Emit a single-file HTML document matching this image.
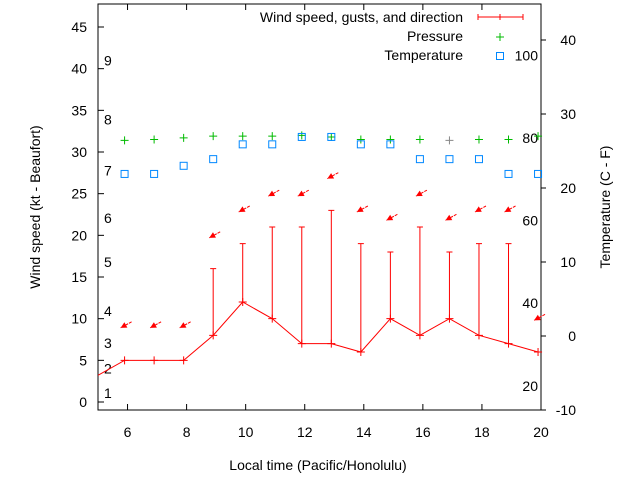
<!DOCTYPE html>
<html><head><meta charset="utf-8"><style>
body{margin:0;background:#fff}
svg{display:block;font-family:"Liberation Sans",sans-serif;font-size:14px}
</style></head><body>
<svg id="c" width="640" height="480" viewBox="0 0 640 480"></svg>
<script>
const hours=[4.9,5.9,6.9,7.9,8.9,9.9,10.9,11.9,12.9,13.9,14.9,15.9,16.9,17.9,18.9,19.9];
const wind=[3,5,5,5,8,12,10,7,7,6,10,8,10,8,7,6];
const gusts=[3,5,5,5,16,19,21,21,23,19,18,21,18,19,19,6];
const arrowLevel=[null,8.9,8.9,8.9,19.7,22.8,24.7,24.7,26.8,22.8,21.8,24.7,21.8,22.8,22.8,9.8];
const pressure=[null,31.4,31.5,31.7,31.9,31.9,31.9,32,31.8,31.5,31.5,31.5,31.4,31.5,31.5,31.9];
const pressureGray=[null,null,null,null,null,null,null,null,null,null,null,null,31.4,null,null,null];
const tempC=[null,21.9,21.9,23,23.9,25.9,25.9,26.9,26.9,25.9,25.9,23.9,23.9,23.9,21.9,21.9];
const xTicks=[6,8,10,12,14,16,18,20];
const yTicks=[0,5,10,15,20,25,30,35,40,45];
const tTicks=[-10,0,10,20,30,40];
const beaufort=["1","2","3","4","5","6","7","8","9"];
const beaufortAt=[1.1,4,7.1,10.9,16.8,22.1,27.8,33.9,41];
const pLabels=["20","40","60","80","100"];
const pLabelAt=[1.9,11.9,21.8,31.7,41.6];

const L=98,R=541,T=4,B=410;
const X=h=>L+(h-5)*(R-L)/15;
const Y=v=>402-v*375/45;
const YT=c=>336-c*7.4;
const s=document.getElementById('c');
const NS='http://www.w3.org/2000/svg';
function mk(tag,at,name,txt){const e=document.createElementNS(NS,tag);for(const k in at)e.setAttribute(k,at[k]);


if(txt!==undefined)e.textContent=txt;s.appendChild(e);return e;}

mk('rect',{x:L,y:T,width:R-L,height:B-T,fill:'none',stroke:'#000'},'plot-frame');
xTicks.forEach(t=>{const x=X(t);
mk('line',{x1:x,y1:B,x2:x,y2:B-6,stroke:'#000'},'x-tick');
mk('line',{x1:x,y1:T,x2:x,y2:T+6,stroke:'#000'},'x-tick-top');
mk('text',{x:x,y:B+27,'text-anchor':'middle'},'x-tick-label',String(t));});
yTicks.forEach(t=>{const y=Y(t);
mk('line',{x1:L,y1:y,x2:L+6,y2:y,stroke:'#000'},'y-tick');
mk('text',{x:L-11,y:y+5,'text-anchor':'end'},'y-tick-label',String(t));});
tTicks.forEach(t=>{const y=YT(t);
mk('line',{x1:R,y1:y,x2:R+5,y2:y,stroke:'#000'},'temp-tick');
mk('text',{x:R+35,y:y+5,'text-anchor':'end'},'temp-tick-label',String(t));});
beaufort.forEach((b,i)=>mk('text',{x:104,y:Y(beaufortAt[i])+5},'beaufort-label',b));
pLabels.forEach((p,i)=>mk('text',{x:538,y:Y(pLabelAt[i])+5,'text-anchor':'end'},'pressure-scale-label',p));

let d='';hours.forEach((h,i)=>{d+=(i?'L':'M')+X(h)+' '+Y(wind[i])});
const cp=mk('clipPath',{id:'cl'},'clip');const cr=document.createElementNS(NS,'rect');
cr.setAttribute('x',L);cr.setAttribute('y',T);cr.setAttribute('width',R-L);cr.setAttribute('height',B-T);cp.appendChild(cr);
mk('path',{d:d,fill:'none',stroke:'#f00','clip-path':'url(#cl)'},'wind-speed-line');
hours.forEach((h,i)=>{const x=X(h),y=Y(wind[i]);if(x<L)return;
mk('path',{d:`M${x-4} ${y}h8M${x} ${y-4}v8`,stroke:'#f00'},'wind-point');
if(gusts[i]>wind[i]){const g=Y(gusts[i]);
mk('path',{d:`M${x} ${y}V${g}M${x-3} ${g}h6`,stroke:'#f00'},'gust-errorbar');}
if(arrowLevel[i]!=null){const ay=Y(arrowLevel[i]);const tx=x-4,ty=ay;
mk('path',{d:`M${tx+11} ${ty-6}L${tx} ${ty}`,stroke:'#f00','stroke-dasharray':'3 1'},'direction-arrow-shaft');
const bx=tx+5.3,by=ty-2.9;
mk('polygon',{points:`${tx},${ty} ${bx+1.5},${by+2.7} ${bx-1.5},${by-2.7}`,fill:'#f00'},'direction-arrow-head');}
if(pressure[i]!=null){const py=Y(pressure[i]);
mk('path',{d:`M${x-4} ${py}h8M${x} ${py-4}v8`,stroke:pressureGray[i]!=null?'#888':'#0b0'},'pressure-point');}
if(tempC[i]!=null){const ty=YT(tempC[i]);
mk('rect',{x:x-3.5,y:ty-3.5,width:7,height:7,fill:'none',stroke:'#08f'},'temperature-point');}
});

mk('text',{x:463,y:22,'text-anchor':'end'},'legend-wind-label','Wind speed, gusts, and direction');
mk('path',{d:'M478 17h45M478 14v6M523 14v6M500 14v6',stroke:'#f00'},'legend-wind-sample');
mk('text',{x:463,y:41,'text-anchor':'end'},'legend-pressure-label','Pressure');
mk('path',{d:'M496 37h8M500 33v8',stroke:'#0b0'},'legend-pressure-sample');
mk('text',{x:463,y:60,'text-anchor':'end'},'legend-temperature-label','Temperature');
mk('rect',{x:496.5,y:52.5,width:7,height:7,fill:'none',stroke:'#08f'},'legend-temperature-sample');

mk('text',{x:318,y:470,'text-anchor':'middle'},'x-axis-title','Local time (Pacific/Honolulu)');
mk('text',{x:0,y:0,'text-anchor':'middle',transform:'translate(40 207) rotate(-90)'},'y-axis-title','Wind speed (kt - Beaufort)');
mk('text',{x:0,y:0,'text-anchor':'middle',transform:'translate(610 207) rotate(-90)'},'y2-axis-title','Temperature (C - F)');
</script>
</body></html>
